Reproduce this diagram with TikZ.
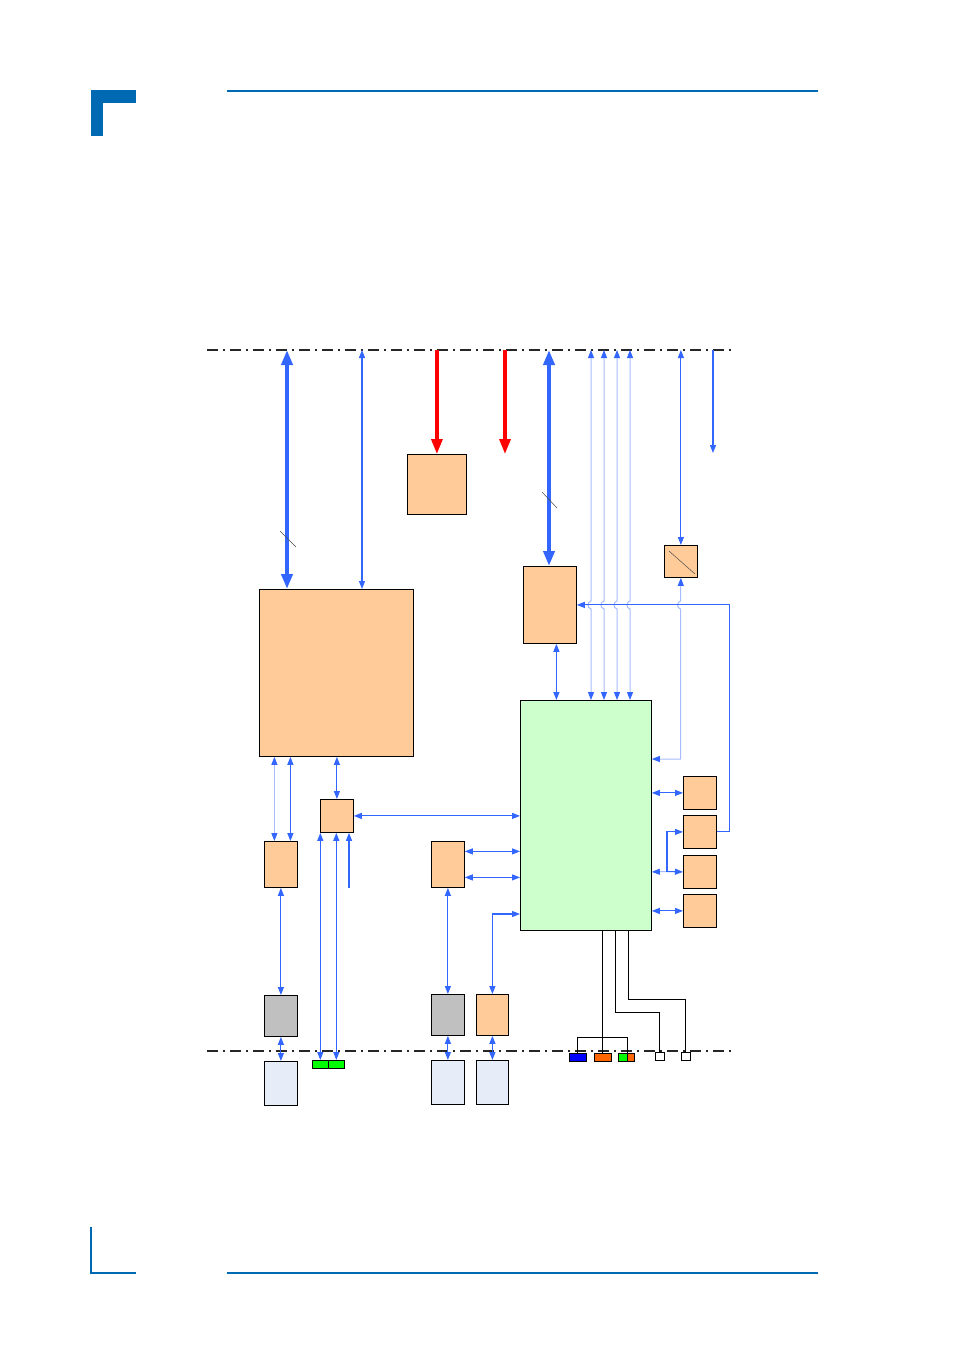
\documentclass[tikz,border=0pt]{standalone}
\usepackage{tikz}
\usepackage{xcolor}
\usetikzlibrary{arrows.meta,calc}
\definecolor{cHd}{HTML}{0069B4}
\definecolor{cBl}{HTML}{3366FF}
\definecolor{cLt}{HTML}{A6BCFF}
\definecolor{cOr}{HTML}{FFCC99}
\definecolor{cGr}{HTML}{CCFFCC}
\definecolor{cGy}{HTML}{C0C0C0}
\definecolor{cLb}{HTML}{E6EDF8}
\definecolor{cRd}{HTML}{FF0000}
\definecolor{cUsb}{HTML}{00FF00}
\definecolor{cOx}{HTML}{FF6600}
\definecolor{cBx}{HTML}{0000FF}
\tikzset{
  blk/.style={draw,line width=0.8pt,fill=cOr,inner sep=0pt,anchor=north west},
  sz/.style 2 args={minimum width=#1pt,minimum height=#2pt},
  con/.style={draw,line width=0.6pt,inner sep=0pt,anchor=north west},
  bus/.style={black!85,line width=1.8pt,dash pattern=on 11pt off 5pt on 2pt off 5pt},
  arr/.style={cBl,line width=1.1pt,>={Triangle[length=8pt,width=6pt]}},
  larr/.style={draw=cLt,line width=1pt,>={Triangle[length=8pt,width=6pt,color=cBl]}},
  big/.style={cBl,line width=4pt,>={Triangle[length=15pt,width=11pt]},<->},
  pwrarr/.style={cRd,line width=3.2pt,>={Triangle[length=15pt,width=11pt]},->},
  wire/.style={black,line width=0.9pt},
  slash/.style={black!70,line width=0.5pt},
}

\begin{document}
\begin{tikzpicture}[x=1pt,y=-1pt]
\useasboundingbox (0,0) rectangle (954,1350);
% page frame
\fill[cHd] (91,90) rectangle (136,103);
\fill[cHd] (91,90) rectangle (103,136);
\draw[cHd,line width=2pt] (227,91) -- (818,91);
\draw[cHd,line width=1.6pt] (91,1227) -- (91,1273) -- (136,1273);
\draw[cHd,line width=2pt] (227,1273) -- (818,1273);

% buses
\coordinate (busT) at (207,350);
\coordinate (busB) at (207,1051);
\draw[bus] (busT) -- ++(528,0);
\draw[bus] (busB) -- ++(528,0);

% blocks
\node[blk,sz={154}{167}] (cpu) at (259,589) {};
\node[blk,sz={59}{60}] (pwr) at (407,454) {};
\node[blk,sz={53}{77}] (brg) at (523,566) {};
\node[blk,sz={33}{32}] (adc) at (664,545) {};
\node[blk,fill=cGr,sz={131}{230}] (soc) at (520,700) {};
\node[blk,sz={33}{33}] (hub) at (320,799) {};
\node[blk,sz={33}{46}] (sbx) at (264,841) {};
\node[blk,sz={33}{46}] (mid) at (431,841) {};
\node[blk,sz={33}{33}] (io1) at (683,776) {};
\node[blk,sz={33}{33}] (io2) at (683,815) {};
\node[blk,sz={33}{33}] (io3) at (683,855) {};
\node[blk,sz={33}{33}] (io4) at (683,894) {};
\node[blk,fill=cGy,sz={33}{41}] (gy1) at (264,995) {};
\node[blk,fill=cGy,sz={33}{41}] (gy2) at (431,994) {};
\node[blk,sz={32}{41}] (ob) at (476,994) {};
\node[blk,fill=cLb,sz={33}{44}] (lt1) at (264,1061) {};
\node[blk,fill=cLb,sz={33}{44}] (lt2) at (431,1060) {};
\node[blk,fill=cLb,sz={32}{44}] (lt3) at (476,1060) {};
% connectors
\node[con,fill=cUsb,sz={16}{8}] (usb1) at (312,1060) {};
\node[con,fill=cUsb,sz={16}{8}] (usb2) at (328,1060) {};
\node[con,fill=cBx,sz={17}{8}] (co1) at (569,1053) {};
\node[con,fill=cOx,sz={17}{8}] (co2) at (593.5,1053) {};
\node[con,fill=cUsb,sz={8.4}{8}] (cg) at (618.3,1053) {};
\node[con,fill=cOx,sz={7.6}{8}] (co3) at (626.7,1053) {};
\node[con,fill=white,sz={8.4}{8.3}] (wb1) at (655.3,1052) {};
\node[con,fill=white,sz={8.4}{8.3}] (wb2) at (681.3,1052) {};

% top bus links
\coordinate (tA) at (287,350);
\coordinate (tB) at (362,350);
\coordinate (tD) at (505,350);
\coordinate (tE) at (549,350);
\coordinate (tG) at (713,350);
\draw[big] (tA) -- (tA |- cpu.north);
\draw[arr,<->] (tB) -- (tB |- cpu.north);
\draw[pwrarr] (pwr.north |- busT) -- (pwr.north);
\draw[pwrarr] (tD) -- ++(0,104);
\draw[big] (tE) -- (tE |- brg.north);
\draw[arr,<->] (adc.north |- busT) -- (adc.north);
\draw[arr,->] (tG) -- ++(0,103);
\draw[slash] (280,531) -- (296,547);
\draw[slash] (542,492) -- (557,508);
\draw[slash] ([shift={(5,6)}]adc.north west) -- ([shift={(-3,-4)}]adc.south east);

% light lines with hops
\foreach \x in {591,604,617,630}
  \draw[larr,<->] (\x,350) -- (\x,601) .. controls (\x-4,602) and (\x-4,608) .. (\x,609) -- (\x,700);
\draw[larr,<->] (adc.south) -- (680.5,601) .. controls (676.5,602) and (676.5,608) .. (680.5,609)
  |- ([yshift=-59pt]soc.north east);
\draw[arr,->] (io2.east) -- ++(13,0) |- (brg.east);
\draw[arr,<->] ([xshift=6.5pt]brg.south) -- ([xshift=6.5pt]brg.south |- soc.north);

% left side
\draw[larr,<->] ([xshift=-6.5pt]sbx.north) -- ([xshift=-6.5pt]sbx.north |- cpu.south);
\draw[arr,<->] ([xshift=9.5pt]sbx.north) -- ([xshift=9.5pt]sbx.north |- cpu.south);
\draw[arr,<->] (hub.north) -- (hub.north |- cpu.south);
\draw[arr,<->] (hub.east) -- (hub.east -| soc.west);
\draw[arr,<->] (usb1.north) -- (usb1.north |- hub.south);
\draw[arr,<->] (usb2.north) -- (usb2.north |- hub.south);
\coordinate (fp) at (349,888);
\draw[arr,->] (fp) -- (fp |- hub.south);
\draw[arr,<->] (sbx.south) -- (gy1.north);
\draw[arr,<->] (gy1.south) -- (lt1.north);
\draw[arr,<->] ([yshift=13pt]mid.east) -- ([yshift=13pt]mid.east -| soc.west);
\draw[arr,<->] ([yshift=-13pt]mid.east) -- ([yshift=-13pt]mid.east -| soc.west);
\draw[arr,<->] (mid.south) -- (gy2.north);
\draw[arr,<->] (gy2.south) -- (lt2.north);
\draw[arr,<->] (ob.north) |- ([yshift=-214pt]soc.north west);
\draw[arr,<->] (ob.south) -- (lt3.north);

% right side
\draw[arr,<->] (io1.west -| soc.east) -- (io1.west);
\coordinate (jn) at (667,871.5);
\draw[larr,<-] (io3.west -| soc.east) -- (jn);
\draw[arr,->] (jn) -- (io3.west);
\draw[arr,->] (jn) |- (io2.west);
\draw[arr,<->] (io4.west -| soc.east) -- (io4.west);

% bottom wires
\draw[wire] (co2.north) -- (co2.north |- soc.south);
\draw[wire] (co1.north) |- ([yshift=16pt]cg.north east) -- (cg.north east);
\draw[wire] ([xshift=30pt]soc.south) |- ([yshift=40pt]wb1.north) -- (wb1.north);
\draw[wire] ([xshift=43pt]soc.south) |- ([yshift=53pt]wb2.north) -- (wb2.north);
\end{tikzpicture}
\end{document}
